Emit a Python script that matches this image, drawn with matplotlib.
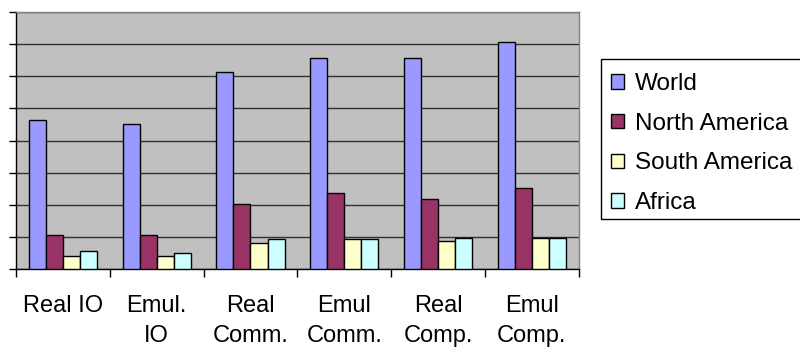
import matplotlib
matplotlib.use("Agg")
import matplotlib.pyplot as plt
import matplotlib.patches as mpatches
import numpy as np

categories = ["Real IO", "Emul.\nIO", "Real\nComm.", "Emul\nComm.", "Real\nComp.", "Emul\nComp."]
series_names = ["World", "North America", "South America", "Africa"]
world = [4.64, 4.52, 6.14, 6.57, 6.57, 7.07]
north_america = [1.05, 1.05, 2.03, 2.36, 2.17, 2.53]
south_america = [0.41, 0.41, 0.80, 0.93, 0.86, 0.98]
africa = [0.56, 0.50, 0.93, 0.93, 0.98, 0.98]
colors = ["#9999FF", "#993366", "#FFFFCC", "#CCFFFF"]

plt.rcParams['font.family'] = ['Liberation Sans', 'DejaVu Sans']

fig = plt.figure(figsize=(8, 3.5), dpi=100)
ax = fig.add_axes([16/800, 1 - 269/350, (578.7 - 16)/800, (269 - 12)/350])
ax.set_facecolor("#C0C0C0")

data = [world, north_america, south_america, africa]
x = np.arange(len(categories))
w = 1 / 5.5
handles = []
for i, (vals, c, name) in enumerate(zip(data, colors, series_names)):
    bars = ax.bar(x - 2 * w + (i + 0.5) * w, vals, width=w, color=c,
                  edgecolor="black", linewidth=1.0, label=name, zorder=3)
    handles.append(bars)

ax.set_xlim(-0.5, len(categories) - 0.5)
ax.set_ylim(0, 8)
ax.set_yticks(np.arange(0, 9, 1))
ax.set_yticklabels([])
ax.yaxis.grid(True, color="#000000", linewidth=1.0, alpha=0.75, zorder=1)
ax.tick_params(axis='y', direction='out', length=5, width=1, color='black')

ax.set_xticks(np.arange(-0.5, len(categories), 1))
ax.set_xticklabels([])
ax.tick_params(axis='x', which='major', direction='out', length=6, width=1, color='black')
ax.set_xticks(x, minor=True)
ax.set_xticklabels(categories, minor=True, fontsize=17, multialignment='center',
                   linespacing=1.45)
ax.tick_params(axis='x', which='minor', length=0, pad=19)

for s in ['top', 'right']:
    ax.spines[s].set_color('#808080')
    ax.spines[s].set_linewidth(1.0)
for s in ['left', 'bottom']:
    ax.spines[s].set_color('black')
    ax.spines[s].set_linewidth(1.0)

# legend frame
frame = mpatches.Rectangle((600.7/800, 1 - 219/350), (800 - 600.7)/800 + 0.01, (219 - 59.3)/350,
                           transform=fig.transFigure, facecolor='white', edgecolor='black',
                           linewidth=1.0, zorder=0)
fig.patches.append(frame)
leg = fig.legend(handles=handles, labels=series_names, loc='upper left',
                 bbox_to_anchor=(611/800, 1 - 73/350), frameon=False, fontsize=17.5,
                 handlelength=0.55, handleheight=0.55, handletextpad=0.45,
                 labelspacing=0.73, borderpad=0.0, borderaxespad=0.0)

fig.savefig("out.png", dpi=100)
